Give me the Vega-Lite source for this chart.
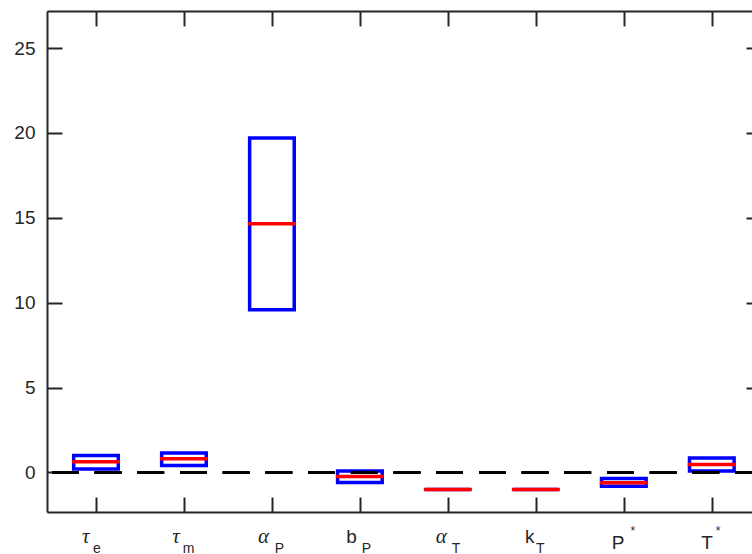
{
  "$schema": "https://vega.github.io/schema/vega-lite/v6.json",
  "width": 705,
  "height": 501,
  "autosize": {"type": "none"},
  "padding": {"left": 47, "top": 11, "right": 0, "bottom": 42},
  "background": "white",
  "config": {
    "view": {"stroke": null},
    "axis": {
      "domainColor": "#262626",
      "tickColor": "#262626",
      "labelColor": "#262626",
      "labelFont": "Liberation Sans",
      "labelFontSize": 19,
      "title": null,
      "grid": false,
      "domainWidth": 2,
      "tickWidth": 2,
      "labelFlush": false,
      "labelOverlap": false
    }
  },
  "data": {
    "values": [
      {"param": "tau_e", "pos": 1, "q1": 0.2, "median": 0.63, "q3": 1.0},
      {"param": "tau_m", "pos": 2, "q1": 0.41, "median": 0.81, "q3": 1.14},
      {"param": "alpha_P", "pos": 3, "q1": 9.59, "median": 14.65, "q3": 19.7},
      {"param": "b_P", "pos": 4, "q1": -0.59, "median": -0.24, "q3": 0.08},
      {"param": "alpha_T", "pos": 5, "q1": -1.0, "median": -1.0, "q3": -1.0},
      {"param": "k_T", "pos": 6, "q1": -1.0, "median": -1.0, "q3": -1.0},
      {"param": "P*", "pos": 7, "q1": -0.82, "median": -0.61, "q3": -0.35},
      {"param": "T*", "pos": 8, "q1": 0.08, "median": 0.47, "q3": 0.85}
    ]
  },
  "layer": [
    {
      "mark": {"type": "bar", "width": 44.6, "fill": "white", "fillOpacity": 0, "stroke": "#0000FF", "strokeWidth": 3.5, "clip": true},
      "encoding": {
        "x": {
          "field": "pos",
          "type": "quantitative",
          "scale": {"domain": [0.5, 8.4], "nice": false, "zero": false},
          "axis": {
            "orient": "bottom",
            "values": [1, 2, 3, 4, 5, 6, 7, 8],
            "tickSize": -15,
            "labelExpr": "['','τ','τ','α','b','α','k','P','T'][datum.value]",
            "labelPadding": 45,
            "labelAlign": "center",
            "labelBaseline": {"condition": {"test": "datum.value >= 7", "value": "middle"}, "value": "alphabetic"},
            "labelOffset": {"condition": [
              {"test": "datum.value == 1", "value": -10.7},
              {"test": "datum.value == 2", "value": -8.5},
              {"test": "datum.value == 3", "value": -9},
              {"test": "datum.value == 4", "value": -9},
              {"test": "datum.value == 5", "value": -7},
              {"test": "datum.value == 6", "value": -6.6},
              {"test": "datum.value == 7", "value": -6.2}
            ], "value": -5.2},
            "labelFont": {"condition": {"test": "datum.value == 1 || datum.value == 2 || datum.value == 3 || datum.value == 5", "value": "Liberation Serif"}, "value": "Liberation Sans"},
            "labelFontSize": {"condition": {"test": "datum.value == 1 || datum.value == 2 || datum.value == 3 || datum.value == 5", "value": 21}, "value": 19},
            "labelFontStyle": {"condition": {"test": "datum.value == 1 || datum.value == 2 || datum.value == 3 || datum.value == 5", "value": "italic"}, "value": "normal"}
          }
        },
        "y": {
          "field": "q1",
          "type": "quantitative",
          "scale": {"domain": [-2.33, 27.18], "nice": false, "zero": false},
          "axis": {"orient": "left", "values": [0, 5, 10, 15, 20, 25], "tickSize": -15, "labelPadding": 27, "labelBaseline": "middle"}
        },
        "y2": {"field": "q3"}
      }
    },
    {
      "mark": {"type": "tick", "orient": "horizontal", "size": 48, "thickness": 3.5, "color": "#FF0000", "opacity": 1, "clip": true},
      "encoding": {
        "x": {
          "field": "pos",
          "type": "quantitative",
          "axis": {
            "orient": "bottom",
            "values": [1, 2, 3, 4, 5, 6, 7, 8],
            "domain": false,
            "ticks": false,
            "labelExpr": "['','e','m','P','P','T','T','*','*'][datum.value]",
            "labelFontSize": {"condition": {"test": "datum.value >= 7", "value": 12}, "value": 14},
            "labelPadding": {"condition": {"test": "datum.value >= 7", "value": 22}, "value": 40},
            "labelBaseline": "alphabetic",
            "labelAlign": "center",
            "labelOffset": {"condition": [
              {"test": "datum.value == 1", "value": 0.3},
              {"test": "datum.value == 2", "value": 4},
              {"test": "datum.value == 3", "value": 7},
              {"test": "datum.value == 4", "value": 6},
              {"test": "datum.value == 5", "value": 7.7},
              {"test": "datum.value == 6", "value": 4},
              {"test": "datum.value == 7", "value": 8.5}
            ], "value": 5.7}
          }
        },
        "y": {
          "field": "median",
          "type": "quantitative",
          "axis": {"orient": "right", "values": [0, 5, 10, 15, 20, 25], "domain": false, "labels": false, "tickSize": -6}
        }
      }
    },
    {
      "mark": {"type": "rule", "strokeDash": [26.7, 16], "strokeWidth": 2, "color": "#000000", "clip": true},
      "encoding": {
        "x": {
          "datum": 0.5,
          "type": "quantitative",
          "axis": {"orient": "top", "values": [1, 2, 3, 4, 5, 6, 7, 8], "labels": false, "tickSize": -15, "domain": true}
        },
        "x2": {"datum": 8.5},
        "y": {"datum": 0, "type": "quantitative", "axis": null}
      }
    }
  ],
  "resolve": {"axis": {"x": "independent", "y": "independent"}}
}
